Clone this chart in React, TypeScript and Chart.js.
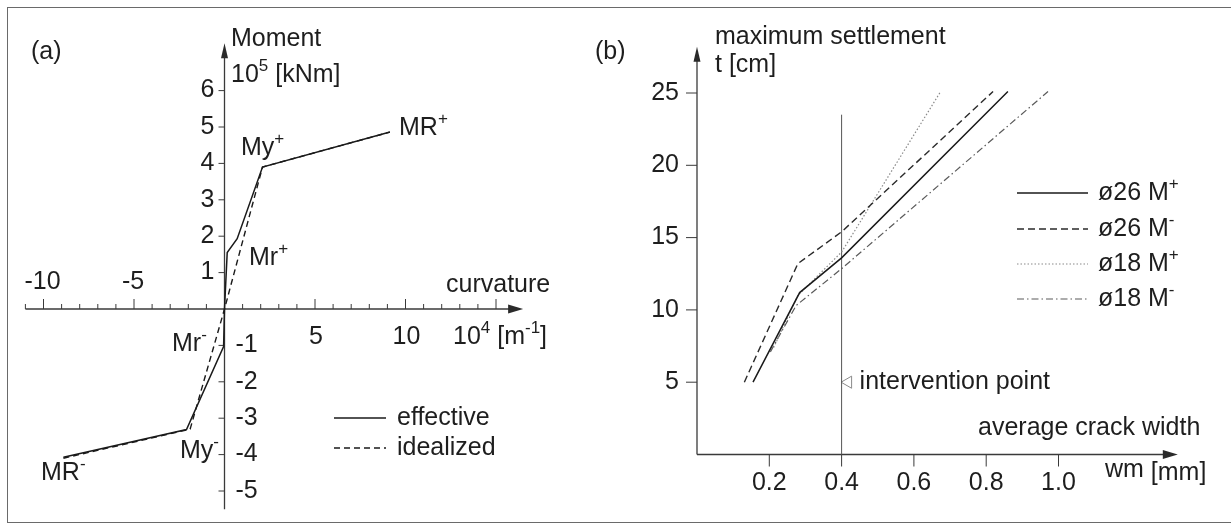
import React, { useEffect, useRef } from 'react';
import { Chart, registerables } from 'chart.js';

Chart.register(...registerables);

const W = 1231;
const H = 526;
const FONT = '"Liberation Sans", Arial, sans-serif';
const INK = '#1e1e1e';
const FS = 25;

// ---------------- Panel (a): moment – curvature ----------------
const curvatureLabelsAbove = [-10, -5];
const curvatureLabelsBelow = [5, 10];
const momentLabelsPos = [1, 2, 3, 4, 5, 6];
const momentLabelsNeg = [-1, -2, -3, -4, -5];
const effectiveCurv = [-8.9, -2.1, -0.05, 0, 0.15, 0.7, 2.1, 9.14];
const effectiveMom = [-4.07, -3.31, -1.03, 0, 1.55, 1.93, 3.9, 4.86];
const idealizedCurv = [-8.9, -1.9, 0, 2.1, 9.14];
const idealizedMom = [-4.1, -3.3, 0, 3.9, 4.86];

// ---------------- Panel (b): settlement – crack width ----------------
const crackTicks = [0.2, 0.4, 0.6, 0.8, 1.0];
const crackTickLabels = ['0.2', '0.4', '0.6', '0.8', '1.0'];
const settlementTicks = [5, 10, 15, 20, 25];
const seriesNames = ['ø26 M', 'ø26 M', 'ø18 M', 'ø18 M'];
const seriesSigns = ['+', '-', '+', '-'];
const d26PlusW = [0.155, 0.284, 0.4, 0.86];
const d26PlusT = [5.0, 11.2, 13.6, 25.1];
const d26MinusW = [0.131, 0.279, 0.4, 0.819];
const d26MinusT = [5.0, 13.2, 15.4, 25.1];
const d18PlusW = [0.212, 0.279, 0.4, 0.674];
const d18PlusT = [7.4, 11.0, 14.0, 25.1];
const d18MinusW = [0.203, 0.274, 0.4, 0.971];
const d18MinusT = [7.1, 10.3, 12.85, 25.1];
const interventionW = 0.4;
const interventionLineT = [0, 23.5];
const interventionMarkW = 0.418;
const interventionMarkT = 5;

const pts = (xs: number[], ys: number[]) => xs.map((x, i) => ({ x, y: ys[i] }));

type Part = { t: string; sup?: boolean; sub?: boolean; raise?: number };
function drawRich(ctx: CanvasRenderingContext2D, parts: Part[], x: number, y: number, align: 'left' | 'right' | 'center' = 'left', size = FS) {
  const fontFor = (p: Part) => `${p.sup || p.sub ? Math.round(size * 0.68) : size}px ${FONT}`;
  const widths = parts.map((p) => { ctx.font = fontFor(p); return ctx.measureText(p.t).width; });
  const total = widths.reduce((a, b) => a + b, 0);
  let cx = align === 'left' ? x : align === 'right' ? x - total : x - total / 2;
  ctx.textAlign = 'left';
  ctx.textBaseline = 'middle';
  ctx.fillStyle = INK;
  parts.forEach((p, i) => {
    ctx.font = fontFor(p);
    const dy = (p.sup ? -size * 0.33 : p.sub ? size * 0.18 : 0) - (p.raise || 0);
    ctx.fillText(p.t, cx, y + dy);
    cx += widths[i];
  });
}
const txt = (ctx: CanvasRenderingContext2D, s: string, x: number, y: number, align: 'left' | 'right' | 'center' = 'left') =>
  drawRich(ctx, [{ t: s }], x, y, align);

function seg(ctx: CanvasRenderingContext2D, x1: number, y1: number, x2: number, y2: number) {
  ctx.beginPath();
  ctx.moveTo(x1, y1);
  ctx.lineTo(x2, y2);
  ctx.stroke();
}
function tri(ctx: CanvasRenderingContext2D, a: number[], b: number[], c: number[]) {
  ctx.beginPath();
  ctx.moveTo(a[0], a[1]);
  ctx.lineTo(b[0], b[1]);
  ctx.lineTo(c[0], c[1]);
  ctx.closePath();
  ctx.fill();
}

// layout of panel (a): origin and unit sizes in pixels
const A = { x0: 224.5, y0: 309, ux: 18.1, uy: 36.4, xmin: -11, xmax: 16.5, ymin: -5.5, ymax: 7.3 };
// layout of panel (b)
const B = { x0: 697, y0: 454.5, ux: 361.5, uy: 14.46, xmin: 0, xmax: 1.33, ymin: 0, ymax: 28.2 };

const panelAPlugin = {
  id: 'panelA',
  beforeDatasetsDraw(chart: any) {
    const { ctx, scales } = chart;
    const x = scales.x, y = scales.y;
    const x0 = x.getPixelForValue(0), y0 = y.getPixelForValue(0);
    const xl = x.getPixelForValue(x.min), xr = x.getPixelForValue(x.max);
    const yt = y.getPixelForValue(y.max), yb = y.getPixelForValue(y.min);
    ctx.save();
    ctx.strokeStyle = '#3a3a3a';
    ctx.fillStyle = '#2a2a2a';
    ctx.lineWidth = 1.3;
    seg(ctx, xl, y0, xr - 10, y0);
    tri(ctx, [xr, y0], [xr - 15, y0 - 4.5], [xr - 15, y0 + 4.5]);
    seg(ctx, x0, yb, x0, yt + 10);
    tri(ctx, [x0, yt], [x0 - 3.5, yt + 15], [x0 + 3.5, yt + 15]);
    ctx.lineWidth = 1;
    for (let v = Math.ceil(x.min); v <= 15; v++) {
      if (v === 0) continue;
      const px = x.getPixelForValue(v);
      seg(ctx, px, y0, px, y0 - (v % 5 === 0 ? 10 : 5));
    }
    for (let v = -5; v <= 6; v++) {
      if (v === 0) continue;
      const py = y.getPixelForValue(v);
      seg(ctx, x0 - 6, py, x0, py);
    }
    ctx.restore();
  },
  afterDraw(chart: any) {
    const { ctx, scales } = chart;
    const x = scales.x, y = scales.y;
    const x0 = x.getPixelForValue(0), y0 = y.getPixelForValue(0);
    ctx.save();
    momentLabelsPos.forEach((v) => txt(ctx, String(v), x0 - 10, y.getPixelForValue(v), 'right'));
    momentLabelsNeg.forEach((v) => txt(ctx, String(v), x0 + 11, y.getPixelForValue(v), 'left'));
    curvatureLabelsAbove.forEach((v) => txt(ctx, String(v), x.getPixelForValue(v) - 1, y0 - 27, 'center'));
    curvatureLabelsBelow.forEach((v) => txt(ctx, String(v), x.getPixelForValue(v) + 1, y0 + 28, 'center'));
    drawRich(ctx, [{ t: '10' }, { t: '4', sup: true }, { t: ' [m' }, { t: '-1', sup: true }, { t: ']' }], 453, y0 + 28);
    txt(ctx, 'curvature', 446, y0 - 24);
    txt(ctx, 'Moment', 231, 39);
    drawRich(ctx, [{ t: '10' }, { t: '5', sup: true }, { t: ' [kNm]' }], 231, 75);
    txt(ctx, '(a)', 31, 52);
    drawRich(ctx, [{ t: 'M' }, { t: 'R' }, { t: '+', sup: true }], 399, 128);
    drawRich(ctx, [{ t: 'M' }, { t: 'y' }, { t: '+', sup: true }], 241, 148);
    drawRich(ctx, [{ t: 'M' }, { t: 'r' }, { t: '+', sup: true }], 249, 258);
    drawRich(ctx, [{ t: 'M' }, { t: 'r' }, { t: '-', sup: true }], 172, 344);
    drawRich(ctx, [{ t: 'M' }, { t: 'y' }, { t: '-', sup: true }], 180, 451);
    drawRich(ctx, [{ t: 'M' }, { t: 'R' }, { t: '-', sup: true }], 41, 473);
    // legend
    const ds = chart.data.datasets;
    const rows = [418, 448];
    ['effective', 'idealized'].forEach((name, i) => {
      ctx.strokeStyle = ds[i].borderColor;
      ctx.lineWidth = ds[i].borderWidth;
      ctx.setLineDash(ds[i].borderDash || []);
      seg(ctx, 334, rows[i], 386, rows[i]);
      ctx.setLineDash([]);
      txt(ctx, name, 397, rows[i]);
    });
    ctx.restore();
  },
};

const panelBPlugin = {
  id: 'panelB',
  beforeDatasetsDraw(chart: any) {
    const { ctx, scales } = chart;
    const x = scales.x, y = scales.y;
    const x0 = x.getPixelForValue(0), y0 = y.getPixelForValue(0);
    const xr = x.getPixelForValue(x.max), yt = y.getPixelForValue(y.max);
    ctx.save();
    ctx.strokeStyle = '#3a3a3a';
    ctx.fillStyle = '#2a2a2a';
    ctx.lineWidth = 1.3;
    seg(ctx, x0, y0, xr - 10, y0);
    tri(ctx, [xr, y0], [xr - 15, y0 - 4.5], [xr - 15, y0 + 4.5]);
    seg(ctx, x0, y0, x0, yt + 10);
    tri(ctx, [x0, yt], [x0 - 3.5, yt + 15], [x0 + 3.5, yt + 15]);
    ctx.lineWidth = 1;
    crackTicks.forEach((v) => { const px = x.getPixelForValue(v); seg(ctx, px, y0, px, y0 + 12); });
    settlementTicks.forEach((v) => { const py = y.getPixelForValue(v); seg(ctx, x0 - 11, py, x0, py); });
    ctx.restore();
  },
  afterDraw(chart: any) {
    const { ctx, scales } = chart;
    const x = scales.x, y = scales.y;
    const x0 = x.getPixelForValue(0), y0 = y.getPixelForValue(0);
    ctx.save();
    settlementTicks.forEach((v) => txt(ctx, String(v), x0 - 18, y.getPixelForValue(v), 'right'));
    crackTicks.forEach((v, i) => txt(ctx, crackTickLabels[i], x.getPixelForValue(v), y0 + 29, 'center'));
    txt(ctx, '(b)', 595, 52);
    txt(ctx, 'maximum settlement', 715, 37);
    txt(ctx, 't [cm]', 715, 65);
    txt(ctx, 'average crack width', 978, 428);
    drawRich(ctx, [{ t: 'wm', raise: 3 }, { t: ' [mm]' }], 1105, 473);
    txt(ctx, 'intervention point', x.getPixelForValue(interventionW) + 18, y.getPixelForValue(interventionMarkT));
    const ds = chart.data.datasets;
    const rows = [193, 229, 264, 299];
    for (let i = 0; i < 4; i++) {
      ctx.strokeStyle = ds[i].borderColor;
      ctx.lineWidth = ds[i].borderWidth;
      ctx.setLineDash(ds[i].borderDash || []);
      seg(ctx, 1017, rows[i], 1088, rows[i]);
      ctx.setLineDash([]);
      drawRich(ctx, [{ t: seriesNames[i] }, { t: seriesSigns[i], sup: true }], 1098, rows[i]);
    }
    ctx.restore();
  },
};

const baseOptions = (L: typeof A) => ({
  responsive: false,
  animation: false as const,
  events: [] as any[],
  layout: {
    padding: {
      left: L.x0 + L.xmin * L.ux,
      right: W - (L.x0 + L.xmax * L.ux),
      top: L.y0 - L.ymax * L.uy,
      bottom: H - (L.y0 - L.ymin * L.uy),
    },
  },
  plugins: { legend: { display: false }, tooltip: { enabled: false } },
  scales: {
    x: { type: 'linear' as const, min: L.xmin, max: L.xmax, display: false },
    y: { type: 'linear' as const, min: L.ymin, max: L.ymax, display: false },
  },
  elements: { point: { radius: 0 }, line: { tension: 0 } },
});

const lineDs = (label: string, data: any[], color: string, width: number, dash: number[]) => ({
  label,
  data,
  showLine: true,
  fill: false,
  borderColor: color,
  backgroundColor: color,
  borderWidth: width,
  borderDash: dash,
  pointRadius: 0,
  clip: false as const,
});

export default function App() {
  const refA = useRef<HTMLCanvasElement>(null);
  const refB = useRef<HTMLCanvasElement>(null);
  useEffect(() => {
    const a = new Chart(refA.current as HTMLCanvasElement, {
      type: 'scatter',
      data: {
        datasets: [
          lineDs('effective', pts(effectiveCurv, effectiveMom), '#1a1a1a', 1.5, []),
          lineDs('idealized', pts(idealizedCurv, idealizedMom), '#1a1a1a', 1.4, [6, 4]),
        ],
      },
      options: baseOptions(A) as any,
      plugins: [panelAPlugin],
    });
    const b = new Chart(refB.current as HTMLCanvasElement, {
      type: 'scatter',
      data: {
        datasets: [
          lineDs('ø26 M+', pts(d26PlusW, d26PlusT), '#1a1a1a', 1.5, []),
          lineDs('ø26 M-', pts(d26MinusW, d26MinusT), '#2a2a2a', 1.4, [7, 4]),
          lineDs('ø18 M+', pts(d18PlusW, d18PlusT), '#8a8a8a', 1.2, [1.5, 2]),
          lineDs('ø18 M-', pts(d18MinusW, d18MinusT), '#5a5a5a', 1.2, [7, 3, 1.5, 3]),
          lineDs('intervention', pts([interventionW, interventionW], interventionLineT), '#555', 1, []),
          {
            label: 'intervention point',
            data: [{ x: interventionMarkW, y: interventionMarkT }],
            showLine: false,
            pointStyle: 'triangle',
            rotation: -90,
            pointRadius: 7,
            borderColor: '#8a8a8a',
            backgroundColor: 'rgba(255,255,255,0)',
            borderWidth: 1,
            clip: false,
          },
        ],
      },
      options: baseOptions(B) as any,
      plugins: [panelBPlugin],
    });
    return () => {
      a.destroy();
      b.destroy();
    };
  }, []);
  return (
    <div style={{ position: 'fixed', left: 0, top: 0, width: W, height: H, background: '#fff', overflow: 'hidden' }}>
      <div style={{ position: 'absolute', left: 7, top: 7, width: 1260, height: 516, border: '1.5px solid #6a6a6a', boxSizing: 'border-box' }} />
      <canvas ref={refA} width={W} height={H} style={{ position: 'absolute', left: 0, top: 0 }} />
      <canvas ref={refB} width={W} height={H} style={{ position: 'absolute', left: 0, top: 0 }} />
    </div>
  );
}
